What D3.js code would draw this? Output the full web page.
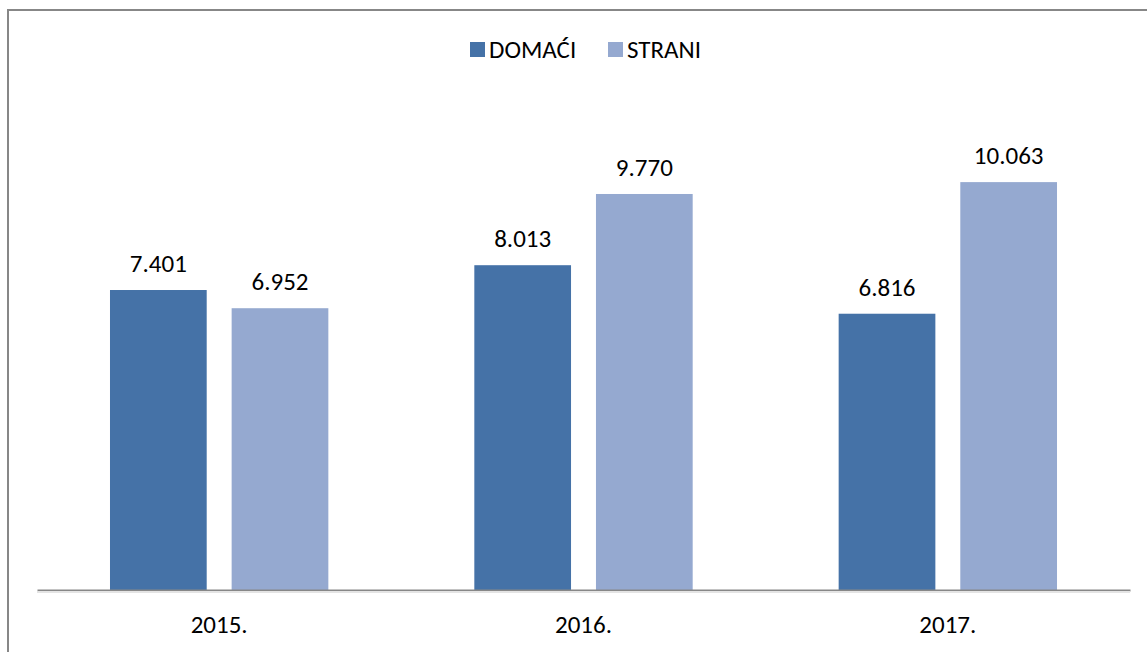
<!DOCTYPE html>
<html>
<head>
<meta charset="utf-8">
<script src="https://cdn.jsdelivr.net/npm/d3@7"></script>
<style>
body { margin: 0; background: #fff; }
text { font-family: Carlito, Calibri, "Open Sans", sans-serif; fill: #000; }
</style>
</head>
<body>
<div id="canvas"></div>
<script>
// ----------------------------------------------------------
// DATA -----------------------------------------------------
// ----------------------------------------------------------
var years = ["2015.", "2016.", "2017."];
var series_names = ["DOMAĆI", "STRANI"];
var values_domaci = [7.401, 8.013, 6.816];
var values_strani = [6.952, 9.770, 10.063];
var series_colors = ["#4572a7", "#95a9d0"];

// ----------------------------------------------------------
// STRUCTURE ------------------------------------------------
// ----------------------------------------------------------
var W = 1147, H = 652;
var svg = d3.select("#canvas").append("svg")
  .attr("width", W)
  .attr("height", H)
  .style("display", "block");

// frame (top + left only, like the cropped chart)
svg.append("rect").attr("x", 7).attr("y", 9).attr("width", W - 7).attr("height", 2).style("fill", "#878787");
svg.append("rect").attr("x", 7).attr("y", 9).attr("width", 2).attr("height", H - 9).style("fill", "#878787");

var rows = years.map(function(y, i) {
  return { year: y, "DOMAĆI": values_domaci[i], "STRANI": values_strani[i] };
});

// ----------------------------------------------------------
// SCALES ---------------------------------------------------
// ----------------------------------------------------------
var x0 = d3.scaleBand().domain(years).range([37, 1130]).paddingInner(0).paddingOuter(0);
var x1 = d3.scaleBand().domain(series_names).range([0, x0.bandwidth()]).paddingInner(0.205).paddingOuter(0.6);
var y = d3.scaleLinear().domain([0, 12]).range([590, 103.6]);
var color = d3.scaleOrdinal().domain(series_names).range(series_colors);

// ----------------------------------------------------------
// BARS -----------------------------------------------------
// ----------------------------------------------------------
var groups = svg.append("g").selectAll("g")
  .data(rows)
  .enter().append("g")
  .attr("transform", function(d) { return "translate(" + x0(d.year) + ",0)"; });

var cells = groups.selectAll("g")
  .data(function(d) { return series_names.map(function(k) { return { key: k, value: d[k] }; }); })
  .enter().append("g");

cells.append("rect")
  .attr("x", function(d) { return x1(d.key); })
  .attr("y", function(d) { return y(d.value); })
  .attr("width", x1.bandwidth())
  .attr("height", function(d) { return y(0) - y(d.value); })
  .style("fill", function(d) { return color(d.key); });

cells.append("text")
  .attr("x", function(d) { return x1(d.key) + x1.bandwidth() / 2; })
  .attr("y", function(d) { return y(d.value) - 18; })
  .attr("text-anchor", "middle")
  .style("font-size", "25px")
  .text(function(d) { return d3.format(".3f")(d.value); });

// ----------------------------------------------------------
// AXIS -----------------------------------------------------
// ----------------------------------------------------------
var xAxis = svg.append("g")
  .attr("transform", "translate(0," + y(0) + ")")
  .call(d3.axisBottom(x0).tickSize(0).tickPadding(25))
  .call(function(g) {
    g.select(".domain").attr("stroke", "#878787").attr("stroke-width", 2);
    g.selectAll(".tick text").style("font-size", "25px").attr("dy", "0.71em");
  });
svg.append("rect").attr("x", 37).attr("y", y(0) + 1).attr("width", 1093).attr("height", 2).style("fill", "#e4e4e4");

// ----------------------------------------------------------
// LEGEND ---------------------------------------------------
// ----------------------------------------------------------
var legend_x = [470, 608];
var legend = svg.append("g").selectAll("g")
  .data(series_names)
  .enter().append("g")
  .attr("transform", function(d, i) { return "translate(" + legend_x[i] + ",42)"; });
legend.append("rect").attr("width", 15).attr("height", 15).style("fill", function(d) { return color(d); });
legend.append("text").attr("x", 19).attr("y", 15.5).style("font-size", "25px").text(function(d) { return d; });
</script>
</body>
</html>
